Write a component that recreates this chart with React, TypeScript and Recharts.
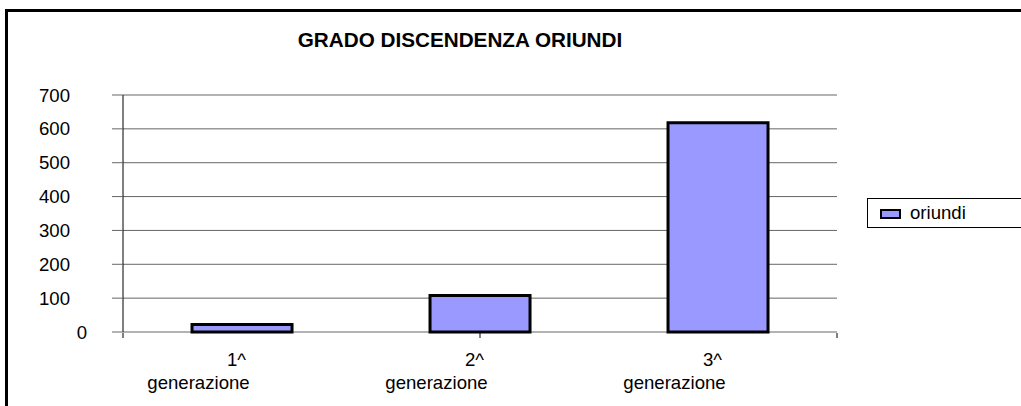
import React from "react";
import { BarChart, Bar, XAxis, YAxis, CartesianGrid, Legend } from "recharts";

const categories = ["1^", "2^", "3^"];
const categorySuffix = "generazione";
const oriundi = [22, 108, 618];
const yTicks = [0, 100, 200, 300, 400, 500, 600, 700];
const edgeTicks = [0, 1, 2, 3];
const seriesName = "oriundi";
const title = "GRADO DISCENDENZA ORIUNDI";

const data = categories.map((c, i) => ({ name: c, oriundi: oriundi[i] }));

const FONT = '"Liberation Sans", Arial, sans-serif';
const FS = 18.6;

const XTick = (props: any) => {
  const { x, y, payload } = props;
  return (
    <g>
      <text x={x - 5.5} y={y + 34} textAnchor="middle" fontSize={FS} fontFamily={FONT} fill="#000">
        {payload.value}
      </text>
      <text x={x - 43.5} y={y + 57} textAnchor="middle" fontSize={FS} fontFamily={FONT} fill="#000">
        {categorySuffix}
      </text>
    </g>
  );
};

const EmptyTick = () => <g />;

const YTick = (props: any) => {
  const { x, y, payload } = props;
  const shift = payload.value === 0 ? 17 : 0;
  return (
    <text x={x + shift} y={y} dy="0.355em" textAnchor="end" fontSize={FS} fontFamily={FONT} fill="#000">
      {payload.value}
    </text>
  );
};

const LegendContent = () => (
  <div
    style={{
      position: "relative",
      width: 180,
      height: 28,
      border: "1px solid #000",
      background: "#fff",
      fontFamily: FONT,
      fontSize: FS,
    }}
  >
    <span
      style={{
        position: "absolute",
        left: 12,
        top: 10,
        width: 17,
        height: 6,
        background: "#9999FF",
        border: "2px solid #000",
      }}
    />
    <span style={{ position: "absolute", left: 42, top: 3, lineHeight: "normal", color: "#000" }}>
      {seriesName}
    </span>
  </div>
);

export default function App() {
  return (
    <div
      style={{
        position: "absolute",
        left: 0,
        top: 0,
        width: 1021,
        height: 406,
        overflow: "hidden",
        background: "#fff",
      }}
    >
      <div
        style={{
          position: "absolute",
          left: 5,
          top: 9,
          width: 1100,
          height: 500,
          borderLeft: "3px solid #000",
          borderTop: "3px solid #000",
        }}
      />
      <div
        style={{
          position: "absolute",
          left: 160,
          top: 28,
          width: 600,
          textAlign: "center",
          fontFamily: FONT,
          fontSize: 20.7,
          fontWeight: "bold",
          lineHeight: "normal",
          color: "#000",
        }}
      >
        {title}
      </div>
      <div style={{ position: "absolute", left: 0, top: 0 }}>
        <BarChart
          width={1021}
          height={406}
          data={data}
          margin={{ top: 95, right: 184, bottom: 72, left: 0 }}
          barCategoryGap="29%"
        >
          <CartesianGrid vertical={false} stroke="#666" strokeWidth={1} />
          <XAxis
            dataKey="name"
            xAxisId="cat"
            height={1}
            tickLine={false}
            tickSize={0}
            tickMargin={0}
            axisLine={false}
            tick={<XTick />}
            interval={0}
          />
          <XAxis
            xAxisId="edges"
            type="number"
            domain={[0, 3]}
            ticks={edgeTicks}
            allowDataOverflow
            tick={<EmptyTick />}
            axisLine={false}
            tickLine={{ stroke: "#000" }}
            tickSize={5}
            height={1}
            interval={0}
          />
          <YAxis
            width={123}
            domain={[0, 700]}
            ticks={yTicks}
            tickSize={11}
            tickMargin={42}
            tickLine={{ stroke: "#666" }}
            axisLine={{ stroke: "#000" }}
            tick={<YTick />}
            interval={0}
          />
          <Legend
            layout="horizontal"
            verticalAlign="middle"
            align="center"
            wrapperStyle={{ position: "absolute", left: 867, top: 198, width: 180, height: 30 }}
            content={<LegendContent />}
          />
          <Bar
            dataKey="oriundi"
            xAxisId="cat"
            name={seriesName}
            fill="#9999FF"
            stroke="#000"
            strokeWidth={3}
            isAnimationActive={false}
          />
        </BarChart>
      </div>
    </div>
  );
}
